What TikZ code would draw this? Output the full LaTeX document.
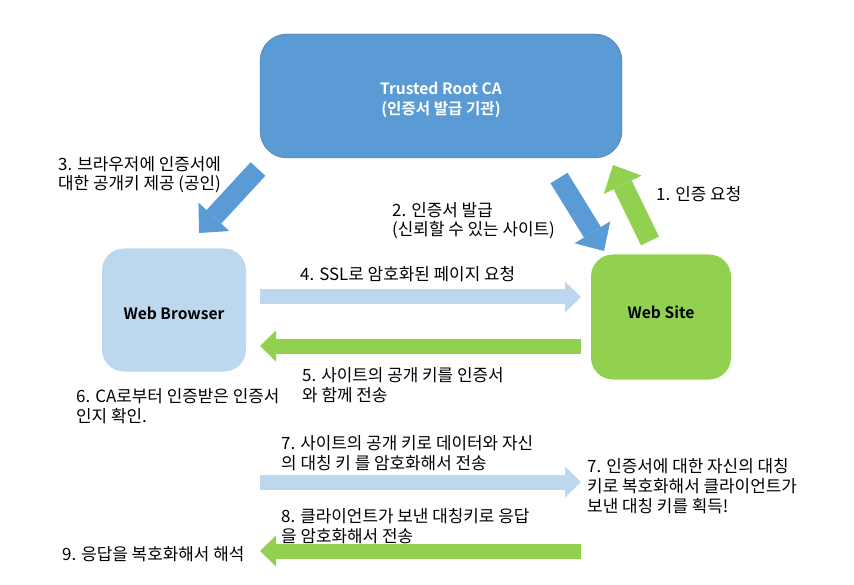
\documentclass[tikz,border=0pt]{standalone}
\usepackage{fontspec}
\setmainfont{Noto Sans CJK KR}[BoldFont={Noto Sans CJK KR Bold}]
\usetikzlibrary{arrows.meta,positioning}
\definecolor{caBlue}{RGB}{91,155,213}
\definecolor{caLine}{RGB}{65,113,156}
\definecolor{paleBlue}{RGB}{189,215,238}
\definecolor{siteGreen}{RGB}{146,208,80}

\begin{document}
\begin{tikzpicture}[x=1pt,y=-1pt,
        box/.style={rectangle,rounded corners=22pt,inner sep=0pt,align=center,
                    font=\fontsize{15.6}{20}\selectfont\bfseries},
        lbl/.style={anchor=base west,inner sep=0pt,align=left,
                    font=\fontsize{16.9}{19.6}\selectfont},
        flat/.style={line width=15pt,-{Triangle[width=31pt,length=16pt,line width=0pt]}},
        tilt/.style={line width=20pt,-{Triangle[width=42pt,length=22pt,line width=0pt]}}]
        \useasboundingbox (0,0) rectangle (854,585);
        \node[box,fill=caBlue,draw=caLine,text=white,minimum width=362pt,minimum height=124pt,
              rounded corners=27pt,text height=38pt,text depth=0pt] (ca) at (441,96) {Trusted Root CA\\(인증서 발급 기관)};
        \node[box,fill=paleBlue,minimum width=144pt,minimum height=123pt,
              text height=19pt,text depth=0pt] (wb) at (174,310) {Web Browser};
        \node[box,fill=siteGreen,minimum width=140pt,minimum height=125pt,
              text height=8pt,text depth=5pt] (ws) at (661,317) {Web Site};
        \coordinate (a1s) at (650,241);  \coordinate (a1e) at (613,165);
        \coordinate (a2s) at (559,178);  \coordinate (a2e) at (604,251);
        \coordinate (a3s) at (258,169);  \coordinate (a3e) at (199,233);
        \coordinate (a4s) at (260,297);  \coordinate (a4e) at (581,297);
        \coordinate (a5s) at (581,346);  \coordinate (a5e) at (260,346);
        \coordinate (a7s) at (260,482);  \coordinate (a7e) at (581,482);
        \coordinate (a8s) at (581,551);  \coordinate (a8e) at (260,551);
        \draw[tilt,siteGreen] (a1s) -- (a1e);
        \draw[tilt,caBlue] (a2s) -- (a2e);
        \draw[tilt,caBlue] (a3s) -- (a3e);
        \draw[flat,paleBlue] (a4s) -- (a4e);
        \draw[flat,siteGreen] (a5s) -- (a5e);
        \draw[flat,paleBlue] (a7s) -- (a7e);
        \draw[flat,siteGreen] (a8s) -- (a8e);
        \node[lbl] (t1) at (656,201) {1. 인증 요청};
        \node[lbl] (t2) at (392,236) {2. 인증서 발급\\(신뢰할 수 있는 사이트)};
        \node[lbl] (t3) at (58,190) {3. 브라우저에 인증서에\\대한 공개키 제공 (공인)};
        \node[lbl] (t4) at (300,281) {4. SSL로 암호화된 페이지 요청};
        \node[lbl] (t5) at (302,401) {5. 사이트의 공개 키를 인증서\\와 함께 전송};
        \node[lbl] (t6) at (76,422) {6. CA로부터 인증받은 인증서\\인지 확인.};
        \node[lbl] (t7) at (281,469) {7. 사이트의 공개 키로 데이터와 자신\\의 대칭 키 를 암호화해서 전송};
        \node[lbl] (t7b) at (587,512) {7. 인증서에 대한 자신의 대칭\\키로 복호화해서 클라이언트가\\보낸 대칭 키를 획득!};
        \node[lbl] (t8) at (281,542) {8. 클라이언트가 보낸 대칭키로 응답\\을 암호화해서 전송};
        \node[lbl] (t9) at (62,560) {9. 응답을 복호화해서 해석};
      \end{tikzpicture}
\end{document}
